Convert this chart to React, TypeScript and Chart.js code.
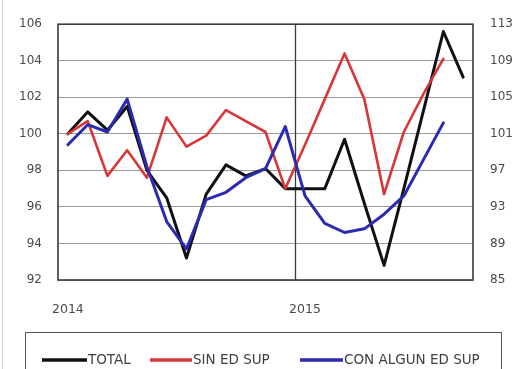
import React, { useEffect, useRef } from "react";
import { Chart, registerables } from "chart.js";

Chart.register(...registerables);

// Monthly index, Jan 2014 – Sep 2015
const months = [
  "2014-01", "2014-02", "2014-03", "2014-04", "2014-05", "2014-06",
  "2014-07", "2014-08", "2014-09", "2014-10", "2014-11", "2014-12",
  "2015-01", "2015-02", "2015-03", "2015-04", "2015-05", "2015-06",
  "2015-07", "2015-08", "2015-09",
];

const total = [
  100.0, 101.2, 100.2, 101.5, 98.0, 96.5, 93.2, 96.7, 98.3, 97.7, 98.1, 97.0,
  97.0, 97.0, 99.7, 96.2, 92.8, 97.0, 101.3, 105.6, 103.1,
];

const sinEdSup = [
  100.0, 100.7, 97.7, 99.1, 97.6, 100.9, 99.3, 99.9, 101.3, 100.7, 100.1, 97.0,
  99.4, 101.9, 104.4, 101.9, 96.7, 100.1, 102.2, 104.1, null,
];

const conAlgunEdSup = [
  99.4, 100.5, 100.1, 101.9, 98.2, 95.2, 93.7, 96.4, 96.8, 97.6, 98.1, 100.4,
  96.6, 95.1, 94.6, 94.8, 95.6, 96.6, 98.6, 100.6, null,
];

// Year labels shown under the first month of each year
const yearTicks: Record<number, string> = { 0: "2014", 12: "2015" };

const seriesNames = ["TOTAL", "SIN ED SUP", "CON ALGUN ED SUP"];
const seriesColors = ["#111111", "#d8373a", "#2b2bb0"];

const FONT = "'DejaVu Sans', sans-serif";

// Plot frame, year separator and boxed legend
const framePlugin = {
  id: "frame",
  beforeDatasetsDraw(chart: any) {
    const { ctx, chartArea } = chart;
    const x = chart.scales.x;
    const sep = (x.getPixelForValue(11) + x.getPixelForValue(12)) / 2;
    ctx.save();
    ctx.strokeStyle = "#3a3a3a";
    ctx.lineWidth = 1.3;
    ctx.beginPath();
    ctx.moveTo(Math.round(sep) + 0.5, chartArea.top);
    ctx.lineTo(Math.round(sep) + 0.5, chartArea.bottom);
    ctx.stroke();
    ctx.lineWidth = 1.6;
    ctx.strokeRect(chartArea.left, chartArea.top, chartArea.right - chartArea.left, chartArea.bottom - chartArea.top);
    ctx.restore();
  },
  afterDraw(chart: any) {
    const { ctx } = chart;
    ctx.save();
    // outer light edge
    ctx.strokeStyle = "#d4d4d4";
    ctx.lineWidth = 1;
    ctx.beginPath();
    ctx.moveTo(2.5, 0);
    ctx.lineTo(2.5, chart.height);
    ctx.stroke();

    // legend box
    ctx.strokeStyle = "#555555";
    ctx.lineWidth = 1;
    ctx.strokeRect(25.5, 332.5, 476, 60);

    const cy = 360;
    const items = [
      { x0: 42, x1: 87 },
      { x0: 150, x1: 192 },
      { x0: 300, x1: 343 },
    ];
    ctx.font = `13.5px ${FONT}`;
    ctx.textBaseline = "middle";
    ctx.textAlign = "left";
    items.forEach((it, i) => {
      ctx.strokeStyle = seriesColors[i];
      ctx.lineWidth = 3.5;
      ctx.lineCap = "butt";
      ctx.beginPath();
      ctx.moveTo(it.x0, cy);
      ctx.lineTo(it.x1, cy);
      ctx.stroke();
      ctx.fillStyle = "#404040";
      ctx.fillText(seriesNames[i], it.x1 + 1, cy + 0.5);
    });
    ctx.restore();
  },
};

export default function App() {
  const canvasRef = useRef<HTMLCanvasElement | null>(null);

  useEffect(() => {
    if (!canvasRef.current) return;
    const chart = new Chart(canvasRef.current, {
      type: "line",
      data: {
        labels: months,
        datasets: [
          { label: seriesNames[0], data: total, borderColor: seriesColors[0], borderWidth: 3, order: 3 },
          { label: seriesNames[1], data: sinEdSup, borderColor: seriesColors[1], borderWidth: 2.6, order: 2 },
          { label: seriesNames[2], data: conAlgunEdSup, borderColor: seriesColors[2], borderWidth: 3, order: 1 },
        ].map((d) => ({
          ...d,
          yAxisID: "y",
          pointRadius: 0,
          pointHoverRadius: 0,
          tension: 0,
          fill: false,
          borderJoinStyle: "round" as const,
          borderCapStyle: "round" as const,
          spanGaps: false,
        })),
      },
      options: {
        animation: false,
        responsive: false,
        maintainAspectRatio: false,
        events: [],
        layout: { padding: { top: 19, left: 0, right: 0, bottom: 0 } },
        plugins: {
          legend: { display: false },
          tooltip: { enabled: false },
          title: { display: false },
        },
        scales: {
          x: {
            type: "category",
            offset: true,
            grid: { display: false, drawTicks: false },
            border: { display: false },
            ticks: {
              autoSkip: false,
              maxRotation: 0,
              minRotation: 0,
              padding: 22,
              color: "#4a4a4a",
              font: { family: FONT, size: 12.5 },
              callback: (_v: any, i: number) => yearTicks[i] ?? "",
            },
            afterFit: (s: any) => {
              s.height = 89;
            },
          },
          y: {
            position: "left",
            min: 92,
            max: 106,
            grid: { color: "#9a9a9a", lineWidth: 1, drawTicks: false },
            border: { display: false },
            ticks: {
              stepSize: 2,
              padding: 16,
              color: "#4a4a4a",
              font: { family: FONT, size: 12 },
            },
            afterFit: (s: any) => {
              s.width = 58;
            },
          },
          y2: {
            position: "right",
            min: 85,
            max: 113,
            grid: { display: false, drawTicks: false },
            border: { display: false },
            ticks: {
              stepSize: 4,
              padding: 17,
              color: "#4a4a4a",
              font: { family: FONT, size: 12 },
            },
            afterFit: (s: any) => {
              s.width = 57;
            },
          },
        },
      },
      plugins: [framePlugin],
    });
    return () => chart.destroy();
  }, []);

  return (
    <div
      style={{
        position: "fixed",
        left: 0,
        top: 0,
        width: 512,
        height: 369,
        overflow: "hidden",
        background: "#ffffff",
      }}
    >
      <canvas ref={canvasRef} width={530} height={369} style={{ display: "block", width: 530, height: 369 }} />
    </div>
  );
}
